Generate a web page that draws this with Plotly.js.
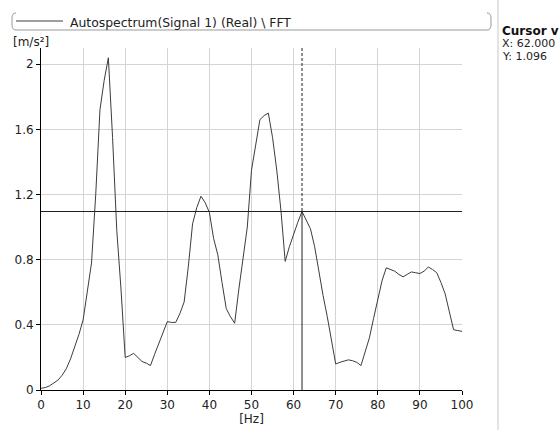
<!DOCTYPE html>
<html><head><meta charset="utf-8">
<script src="https://cdn.plot.ly/plotly-3.0.1.min.js"></script>
<style>html,body{margin:0;padding:0;background:#fff;}#chart{width:560px;height:430px;}</style>
</head><body><div id="chart"></div>
<script>
// Frequency (Hz) and autospectrum values (m/s²)
var freqHz = [];
for (var f = 0; f <= 100; f++) freqHz.push(f);
var amplitude = [
 0.01,0.015,0.025,0.04,0.06,0.09,0.13,0.19,0.26,0.34,
 0.43,0.6,0.78,1.2,1.72,1.9,2.04,1.55,0.98,0.62,
 0.2,0.21,0.225,0.2,0.175,0.165,0.15,0.22,0.29,0.36,
 0.42,0.415,0.415,0.47,0.54,0.76,1.02,1.12,1.19,1.15,
 1.09,0.93,0.83,0.66,0.5,0.45,0.41,0.62,0.82,1.0,
 1.35,1.52,1.66,1.685,1.70,1.55,1.35,1.1,0.79,0.88,
 0.96,1.03,1.096,1.04,0.99,0.88,0.72,0.58,0.45,0.3,
 0.16,0.17,0.18,0.185,0.18,0.17,0.15,0.24,0.32,0.44,
 0.56,0.67,0.75,0.74,0.73,0.71,0.695,0.71,0.725,0.72,
 0.715,0.73,0.755,0.74,0.72,0.66,0.59,0.48,0.37,0.365,
 0.36
];
var seriesName = "Autospectrum(Signal 1) (Real) \\ FFT";
var xTicks = [0,10,20,30,40,50,60,70,80,90,100];
var yTicks = [0,0.4,0.8,1.2,1.6,2];
var yTickText = ["0","0.4","0.8","1.2","1.6","2"];
var cursorIndex = 62;
var cursorX = freqHz[cursorIndex];
var cursorY = amplitude[cursorIndex];

var L = 41, R = 462, T = 48, B = 390;
function px(x){ return (x - L) / (R - L); }
function py(y){ return (B - y) / (B - T); }

var FAM = "DejaVu Sans, Verdana, sans-serif";
var TXT = "#222";

var trace = {
  x: freqHz, y: amplitude, type: "scatter", mode: "lines",
  name: seriesName, line: {color: "#3c3c3c", width: 1}, hoverinfo: "skip", showlegend: false
};

// Legend bracket box path (paper coords)
function P(x, y){ return px(x).toFixed(5) + "," + py(y).toFixed(5); }
var boxPath = "M" + P(16,13) + " Q" + P(12,13) + " " + P(12,18) + " L" + P(12,25) +
  " Q" + P(12,30) + " " + P(16,30) + " L" + P(487,30) + " Q" + P(491,30) + " " + P(491,25) +
  " L" + P(491,18) + " Q" + P(491,13) + " " + P(487,13);

var layout = {
  width: 560, height: 430,
  margin: {l: L, r: 560 - R, t: T, b: 430 - B, pad: 0},
  paper_bgcolor: "#fff", plot_bgcolor: "#fff",
  font: {family: FAM, size: 12, color: TXT},
  showlegend: false,
  xaxis: {
    range: [0, 100], tickvals: xTicks, ticktext: xTicks.map(String),
    showgrid: true, gridcolor: "#d4d4d4", gridwidth: 1,
    showline: true, linecolor: "#000", linewidth: 1, mirror: false,
    ticks: "outside", ticklen: 4, tickcolor: "#000", zeroline: false,
    tickfont: {family: FAM, size: 12, color: TXT},
    title: {text: "[Hz]", standoff: 3, font: {family: FAM, size: 12, color: TXT}},
    fixedrange: true
  },
  yaxis: {
    range: [0, 2.1], tickvals: yTicks, ticktext: yTickText,
    showgrid: true, gridcolor: "#d4d4d4", gridwidth: 1,
    showline: true, linecolor: "#000", linewidth: 1,
    ticks: "outside", ticklen: 4, tickcolor: "#000", zeroline: false,
    tickfont: {family: FAM, size: 12, color: TXT},
    fixedrange: true
  },
  shapes: [
    {type: "path", xref: "paper", yref: "paper", path: boxPath,
     line: {color: "#9a9a9a", width: 1}},
    {type: "line", xref: "paper", yref: "paper", x0: px(16), x1: px(63), y0: py(21), y1: py(21),
     line: {color: "#3c3c3c", width: 1}},
    {type: "line", xref: "paper", yref: "paper", x0: px(498), x1: px(498), y0: py(0), y1: py(430),
     line: {color: "#c8c8c8", width: 1}},
    {type: "line", xref: "x", yref: "paper", x0: cursorX, x1: cursorX, y0: 1, y1: cursorY / 2.1,
     line: {color: "#222", width: 1, dash: "3px,2px"}},
    {type: "line", xref: "x", yref: "y", x0: cursorX, x1: cursorX, y0: cursorY, y1: 0,
     line: {color: "#222", width: 1}},
    {type: "line", xref: "paper", yref: "y", x0: 0, x1: 1, y0: cursorY, y1: cursorY,
     line: {color: "#222", width: 1}}
  ],
  annotations: [
    {xref: "paper", yref: "paper", x: px(68), y: py(22), xanchor: "left", yanchor: "middle",
     text: seriesName, showarrow: false, font: {family: FAM, size: 12.4, color: TXT}},
    {xref: "paper", yref: "paper", x: px(11), y: py(42), xanchor: "left", yanchor: "middle",
     text: "[m/s²]", showarrow: false, font: {family: FAM, size: 12, color: TXT}},
    {xref: "paper", yref: "paper", x: px(500), y: py(31), xanchor: "left", yanchor: "middle",
     text: "<b>Cursor v</b>", showarrow: false, font: {family: FAM, size: 12, color: "#111"}},
    {xref: "paper", yref: "paper", x: px(500), y: py(44), xanchor: "left", yanchor: "middle",
     text: "X: " + cursorX.toFixed(3), showarrow: false, font: {family: FAM, size: 11, color: TXT}},
    {xref: "paper", yref: "paper", x: px(500), y: py(57), xanchor: "left", yanchor: "middle",
     text: "Y: " + cursorY.toFixed(3), showarrow: false, font: {family: FAM, size: 11, color: TXT}}
  ]
};

Plotly.newPlot("chart", [trace], layout, {displayModeBar: false, staticPlot: true});
</script></body></html>
